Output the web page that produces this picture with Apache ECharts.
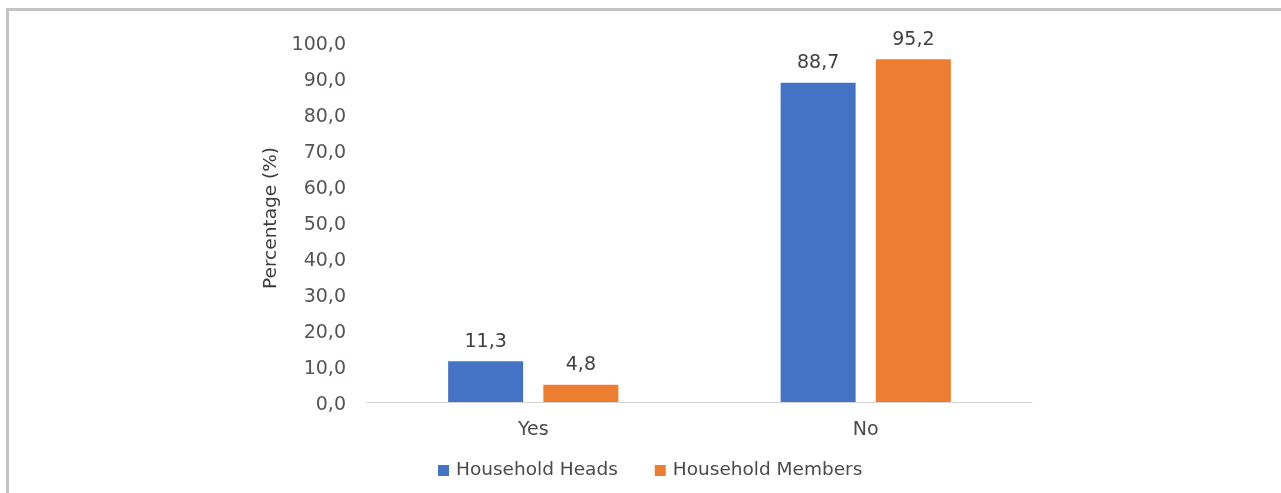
<!DOCTYPE html>
<html><head><meta charset="utf-8">
<script src="https://cdn.jsdelivr.net/npm/echarts@6/dist/echarts.min.js"></script>
<style>
html,body{margin:0;padding:0;background:#fff;}
#frame{position:absolute;left:6px;top:8px;width:1275px;height:485px;border-top:3px solid #c3c3c7;border-left:3px solid #c3c3c7;box-sizing:border-box;}
#c{position:absolute;left:0;top:0;width:1281px;height:493px;}
</style></head><body>
<div id="frame"></div>
<div id="c"></div>
<script>
const categories = ['Yes', 'No'];
const headsValues = [11.3, 88.7];
const membersValues = [4.8, 95.2];
const yTicks = [0, 10, 20, 30, 40, 50, 60, 70, 80, 90, 100];
const seriesNames = ['Household Heads', 'Household Members'];

const fmt = v => v.toFixed(1).replace('.', ',');
const chart = echarts.init(document.getElementById('c'), null, {renderer: 'canvas'});
const font = '"DejaVu Sans", sans-serif';
chart.setOption({
  animation: false,
  textStyle: {fontFamily: font},
  grid: {left: 367, right: 249, top: 42, bottom: 91, containLabel: false},
  legend: {
    bottom: 8, left: 433, itemWidth: 11, itemHeight: 11, itemGap: 37,
    icon: 'rect',
    textStyle: {fontSize: 18.5, color: '#4a4a4a', fontFamily: font, padding: [0, 0, 0, 2]},
    data: seriesNames
  },
  xAxis: {
    type: 'category', data: categories,
    axisLine: {lineStyle: {color: '#d4d4d4', width: 1}},
    axisTick: {show: false},
    axisLabel: {fontSize: 19, color: '#4a4a4a', margin: 19}
  },
  yAxis: {
    type: 'value', min: yTicks[0], max: yTicks[yTicks.length - 1], interval: 10,
    name: 'Percentage (%)', nameLocation: 'middle', nameGap: 86,
    nameTextStyle: {fontSize: 18.5, color: '#3a3a3a', padding: [0, 0, 0, 8]},
    axisLine: {show: false}, axisTick: {show: false},
    splitLine: {show: false},
    axisLabel: {
      margin: 21,
      formatter: v => '{v|' + fmt(v) + '}',
      rich: {v: {fontSize: 19, color: '#5a5252', fontFamily: font, padding: [7, 0, 0, 0]}}
    }
  },
  series: [
    {name: seriesNames[0], type: 'bar', data: headsValues, barWidth: 75, barGap: '27%',
     itemStyle: {color: '#4472c4'},
     label: {show: true, position: 'top', distance: 10, fontSize: 19, color: '#404040', formatter: p => fmt(p.value)}},
    {name: seriesNames[1], type: 'bar', data: membersValues, barWidth: 75,
     itemStyle: {color: '#ed7d31'},
     label: {show: true, position: 'top', distance: 10, fontSize: 19, color: '#404040', formatter: p => fmt(p.value)}}
  ]
});
</script>
</body></html>
